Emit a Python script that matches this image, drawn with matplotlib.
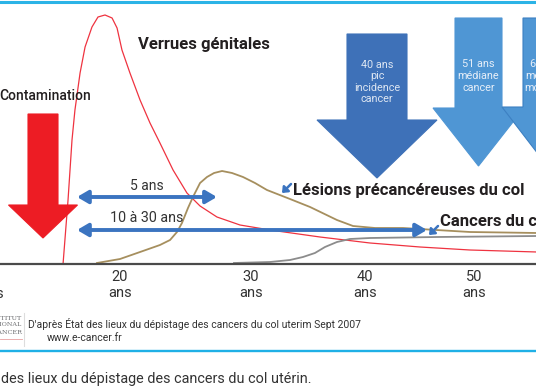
import numpy as np
import matplotlib.pyplot as plt
from matplotlib.patches import Polygon, FancyArrowPatch
from matplotlib.lines import Line2D
from matplotlib.transforms import Affine2D

plt.rcParams['font.family'] = ['Roboto', 'DejaVu Sans']

# curves: age (years) -> relative frequency
verrues_age = [15.55, 15.94, 16.25, 16.48, 16.88, 17.27, 17.81, 18.28, 18.83, 19.38,
               19.77, 20.15, 20.76, 21.53, 22.29, 23.05, 24.05, 25.11, 26.11, 27.40,
               29.16, 31.67, 36.05, 40.46, 45.05, 49.63, 55.78]
verrues_val = [0, 64, 124, 154, 191, 217, 237, 247, 249, 246,
               236, 214, 191, 164, 141, 121, 94, 71, 58, 47,
               39, 34, 27, 21, 17, 14, 12]

lesions_age = [18.20, 20.0, 21.53, 23.05, 23.82, 24.35, 24.73, 25.19, 25.57, 26.11,
               26.64, 27.18, 27.79, 28.55, 29.39, 30.35, 31.40, 33.42, 35.18, 37.54,
               38.95, 40.92, 43.49, 49.63, 55.78]
lesions_val = [1, 5, 12, 19, 24, 32, 41, 56, 67, 81,
               87, 91, 93, 91, 87, 81, 74, 65, 57, 44,
               38, 36, 36, 32, 31]

cancer_age = [28.70, 31.67, 33.42, 34.56, 35.61, 36.49, 37.54, 38.68, 40.46, 46.61, 55.78]
cancer_val = [1, 2, 4, 7, 11, 17, 22, 25, 26, 27, 28]

tick_ages = [10, 20, 30, 40, 50, 60]
tick_labels = ['10\nans', '20\nans', '30\nans', '40\nans', '50\nans', '60\nans']

# schematic: the age axis is not evenly spaced in the original
axis_px = [-8, 120, 251, 365, 474, 583]
def fwd(a):
    return np.interp(a, tick_ages, axis_px)
def inv(p):
    return np.interp(p, axis_px, tick_ages)

W, H = 536, 386
fig = plt.figure(figsize=(W / 100, H / 100), dpi=100)
# pixel coordinates of the figure, origin top-left (for decorations)
pix = Affine2D().scale(1 / W, -1 / H).translate(0, 1) + fig.transFigure

ax = fig.add_axes([0, (H - 264) / H, 1, 264 / H])
ax.set_xscale('function', functions=(fwd, inv))
ax.set_xlim(inv(0), inv(W))
ax.set_ylim(0, 264)
for s in ['top', 'left', 'right']:
    ax.spines[s].set_visible(False)
ax.spines['bottom'].set_color('#4a4a4a')
ax.spines['bottom'].set_linewidth(1.6)
ax.set_yticks([])
ax.set_xticks(tick_ages[1:5], labels=tick_labels[1:5])
ax.tick_params(axis='x', length=0, pad=4, labelsize=10.5, labelcolor='#333333')
ax.text(tick_ages[0], -0.027, tick_labels[0], transform=ax.get_xaxis_transform(),
        ha='center', va='top', fontsize=10.5, color='#333333')

ax.plot(verrues_age, verrues_val, color='#ef3340', lw=0.9)
ax.plot(lesions_age, lesions_val, color='#a68f5e', lw=1.3)
ax.plot(cancer_age, cancer_val, color='#8c8c8c', lw=1.3)

# durations
blue = '#3b74c0'
ax.annotate('', xy=(27.4, 67), xytext=(16.64, 67),
            arrowprops=dict(arrowstyle='<|-|>,head_length=0.65,head_width=0.38',
                            color=blue, lw=2.8, shrinkA=0, shrinkB=0))
ax.annotate('', xy=(45.69, 34), xytext=(16.64, 34),
            arrowprops=dict(arrowstyle='<|-|>,head_length=0.65,head_width=0.38',
                            color=blue, lw=2.8, shrinkA=0, shrinkB=0))
fig.text(147, 186, '5 ans', transform=pix, ha='center', va='center', fontsize=10, color='#333333')
fig.text(147, 218, '10 à 30 ans', transform=pix, ha='center', va='center', fontsize=10.3, color='#333333')


def down_arrow(cx, bw, hw, top, neck, tip, color, edge=None):
    verts = [(cx - bw / 2, top), (cx + bw / 2, top), (cx + bw / 2, neck), (cx + hw / 2, neck),
             (cx, tip), (cx - hw / 2, neck), (cx - bw / 2, neck)]
    p = Polygon(verts, closed=True, transform=pix, facecolor=color,
                edgecolor=edge if edge else color, lw=0.8, zorder=3)
    fig.add_artist(p)


down_arrow(43, 30, 69, 114, 205, 238, '#ed1c24')
down_arrow(377, 60, 120, 34, 120, 178, '#3e71b8')
down_arrow(478.5, 47, 91, 18, 108, 166, '#4f96d4')
down_arrow(546.5, 47, 89, 18, 107, 165, '#4f96d4', edge='#3d80c2')

fig.text(377, 82, '40 ans\npic\nincidence\ncancer', transform=pix, ha='center', va='center',
         fontsize=7.8, color='#dde6f2', linespacing=1.2, zorder=4)
fig.text(478.5, 76, '51 ans\nmédiane\ncancer', transform=pix, ha='center', va='center',
         fontsize=7.8, color='#e6eef8', linespacing=1.2, zorder=4)
fig.text(546.5, 76, '64 ans\nmédiane\nmortalité', transform=pix, ha='center', va='center',
         fontsize=7.8, color='#e6eef8', linespacing=1.2, zorder=4)

# labels
dark = '#231f20'
fig.text(-1, 96, 'Contamination', transform=pix, ha='left', va='center', fontsize=10,
         fontweight='medium', color=dark)
fig.text(138, 45, 'Verrues génitales', transform=pix, ha='left', va='center',
         fontsize=12, fontweight='bold', color=dark)
fig.text(293, 190, 'Lésions précancéreuses du col', transform=pix, ha='left', va='center',
         fontsize=12, fontweight='bold', color=dark)
fig.text(440, 222, 'Cancers du col', transform=pix, ha='left', va='center',
         fontsize=12, fontweight='bold', color=dark)
for start, end in [((291, 184), (282, 193)), ((438, 226), (429, 235))]:
    fig.add_artist(FancyArrowPatch(
        start, end, transform=pix, arrowstyle='-|>,head_length=3,head_width=2.5',
        color=blue, lw=1.8, shrinkA=0, shrinkB=0))

# frame lines
fig.add_artist(Line2D([0, W], [2, 2], transform=pix, color='#2bb3e6', lw=2.2))
fig.add_artist(Line2D([0, W], [351, 351], transform=pix, color='#1fb0e6', lw=1.7))

# footer
fig.add_artist(Line2D([24, 24], [313, 346], transform=pix, color='#dddddd', lw=0.8))
for y, t in [(318, 'INSTITUT'), (325, 'NATIONAL'), (333, 'DU CANCER')]:
    fig.text(22, y, t, transform=pix, ha='right', va='center', fontsize=4.6,
             family='DejaVu Serif', color='#6d6e71')
fig.add_artist(Line2D([0, 22], [339, 339], transform=pix, color='#e6a0a0', lw=0.6))
fig.text(28, 324, "D'après État des lieux du dépistage des cancers du col uterim Sept 2007",
         transform=pix, ha='left', va='center', fontsize=7.5, color='#333333')
fig.text(47, 338, 'www.e-cancer.fr', transform=pix, ha='left', va='center', fontsize=7.5,
         color='#333333')
fig.text(1, 379, 'des lieux du dépistage des cancers du col utérin.', transform=pix,
         ha='left', va='center', fontsize=10.4, color='#333333')

fig.savefig('out.png', dpi=100)
